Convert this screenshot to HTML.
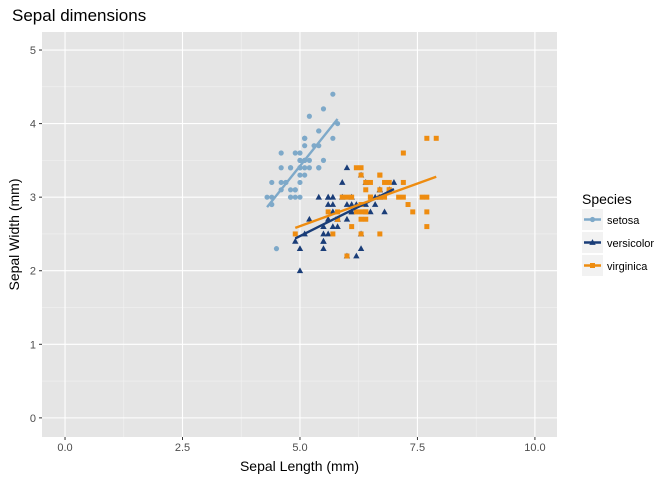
<!DOCTYPE html>
<html><head><meta charset="utf-8"><style>
body{margin:0;background:#fff;}
svg text{font-family:"Liberation Sans",Arial,sans-serif;}
</style></head><body>
<svg id="chart" width="672" height="480" xmlns="http://www.w3.org/2000/svg">
<text x="12" y="21" font-size="17" fill="#000">Sepal dimensions</text>
<rect x="42" y="32" width="515" height="405" fill="#e5e5e5"/>
<g id="grid"></g><g id="marks"></g><g id="axes"></g>
<text x="299.5" y="471" font-size="14" text-anchor="middle">Sepal Length (mm)</text>
<text transform="translate(19,234.5) rotate(-90)" font-size="14" text-anchor="middle">Sepal Width (mm)</text>
<g id="legend">
<text x="582" y="204" font-size="14">Species</text>
</g>
</svg>
<script>
const species=["setosa","versicolor","virginica"];
const colors=["#7ea9c9","#1a3d78","#ee8c10"];
const xTicks=[0,2.5,5,7.5,10];
const xTickLabels=["0.0","2.5","5.0","7.5","10.0"];
const yTicks=[0,1,2,3,4,5];
const yTickLabels=["0","1","2","3","4","5"];
const setosaLength=[5.1,4.9,4.7,4.6,5.0,5.4,4.6,5.0,4.4,4.9,5.4,4.8,4.8,4.3,5.8,5.7,5.4,5.1,5.7,5.1,5.4,5.1,4.6,5.1,4.8,5.0,5.0,5.2,5.2,4.7,4.8,5.4,5.2,5.5,4.9,5.0,5.5,4.9,4.4,5.1,5.0,4.5,4.4,5.0,5.1,4.8,5.1,4.6,5.3,5.0];
const setosaWidth=[3.5,3.0,3.2,3.1,3.6,3.9,3.4,3.4,2.9,3.1,3.7,3.4,3.0,3.0,4.0,4.4,3.9,3.5,3.8,3.8,3.4,3.7,3.6,3.3,3.4,3.0,3.4,3.5,3.4,3.2,3.1,3.4,4.1,4.2,3.1,3.2,3.5,3.6,3.0,3.4,3.5,2.3,3.2,3.5,3.8,3.0,3.8,3.2,3.7,3.3];
const versicolorLength=[7.0,6.4,6.9,5.5,6.5,5.7,6.3,4.9,6.6,5.2,5.0,5.9,6.0,6.1,5.6,6.7,5.6,5.8,6.2,5.6,5.9,6.1,6.3,6.1,6.4,6.6,6.8,6.7,6.0,5.7,5.5,5.5,5.8,6.0,5.4,6.0,6.7,6.3,5.6,5.5,5.5,6.1,5.8,5.0,5.6,5.7,5.7,6.2,5.1,5.7];
const versicolorWidth=[3.2,3.2,3.1,2.3,2.8,2.8,3.3,2.4,2.9,2.7,2.0,3.0,2.2,2.9,2.9,3.1,3.0,2.7,2.2,2.5,3.2,2.8,2.5,2.8,2.9,3.0,2.8,3.0,2.9,2.6,2.4,2.4,2.7,2.7,3.0,3.4,3.1,2.3,3.0,2.5,2.6,3.0,2.6,2.3,2.7,3.0,2.9,2.9,2.5,2.8];
const virginicaLength=[6.3,5.8,7.1,6.3,6.5,7.6,4.9,7.3,6.7,7.2,6.5,6.4,6.8,5.7,5.8,6.4,6.5,7.7,7.7,6.0,6.9,5.6,7.7,6.3,6.7,7.2,6.2,6.1,6.4,7.2,7.4,7.9,6.4,6.3,6.1,7.7,6.3,6.4,6.0,6.9,6.7,6.9,5.8,6.8,6.7,6.7,6.3,6.5,6.2,5.9];
const virginicaWidth=[3.3,2.7,3.0,2.9,3.0,3.0,2.5,2.9,2.5,3.6,3.2,2.7,3.0,2.5,2.8,3.2,3.0,3.8,2.6,2.2,3.2,2.8,2.8,2.7,3.3,3.2,2.8,3.0,2.8,3.0,2.8,3.8,2.8,2.8,2.6,3.0,3.4,3.1,3.0,3.1,3.1,3.1,2.7,3.2,3.3,3.0,2.5,3.0,3.4,3.0];

const NS="http://www.w3.org/2000/svg";
const X0=42,X1=557,Y0=32,Y1=437;
const xMin=-0.49,xMax=10.47,yMin=-0.26,yMax=5.245;
const xs=v=>X0+(v-xMin)/(xMax-xMin)*(X1-X0);
const ys=v=>Y1-(v-yMin)/(yMax-yMin)*(Y1-Y0);
function mk(tag,attrs,parent){const e=document.createElementNS(NS,tag);for(const k in attrs)e.setAttribute(k,attrs[k]);parent.appendChild(e);return e;}
const grid=document.getElementById('grid'),marks=document.getElementById('marks'),axes=document.getElementById('axes'),legend=document.getElementById('legend');
// minor grid
for(let i=0;i<xTicks.length-1;i++){const m=(xTicks[i]+xTicks[i+1])/2;const l=mk('line',{x1:xs(m),x2:xs(m),y1:Y0,y2:Y1,stroke:'#f2f2f2','stroke-width':0.6},grid);

}
for(let i=0;i<yTicks.length-1;i++){const m=(yTicks[i]+yTicks[i+1])/2;const l=mk('line',{x1:X0,x2:X1,y1:ys(m),y2:ys(m),stroke:'#f2f2f2','stroke-width':0.6},grid);

}
xTicks.forEach((t,i)=>{
const l=mk('line',{x1:xs(t),x2:xs(t),y1:Y0,y2:Y1,stroke:'#fff','stroke-width':1.1},grid);


const tk=mk('line',{x1:xs(t),x2:xs(t),y1:Y1,y2:Y1+3,stroke:'#333','stroke-width':1},axes);


const tx=mk('text',{x:xs(t),y:Y1+14,'font-size':11,fill:'#4d4d4d','text-anchor':'middle'},axes);tx.textContent=xTickLabels[i];


});
yTicks.forEach((t,i)=>{
const l=mk('line',{x1:X0,x2:X1,y1:ys(t),y2:ys(t),stroke:'#fff','stroke-width':1.1},grid);


const tk=mk('line',{x1:X0-3,x2:X0,y1:ys(t),y2:ys(t),stroke:'#333','stroke-width':1},axes);


const tx=mk('text',{x:X0-6,y:ys(t)+4,'font-size':11,fill:'#4d4d4d','text-anchor':'end'},axes);tx.textContent=yTickLabels[i];


});
function shape(k,cx,cy,parent){
if(k===0)return mk('circle',{cx:cx,cy:cy,r:2.6,fill:colors[0]},parent);
if(k===1)return mk('polygon',{points:`${cx},${cy-3.4} ${cx-3.2},${cy+2.4} ${cx+3.2},${cy+2.4}`,fill:colors[1]},parent);
return mk('rect',{x:cx-2.5,y:cy-2.5,width:5,height:5,fill:colors[2]},parent);
}
const L=[setosaLength,versicolorLength,virginicaLength],W=[setosaWidth,versicolorWidth,virginicaWidth];
const lines=[];
for(let k=0;k<3;k++){
const xa=L[k],ya=W[k],n=xa.length;
for(let i=0;i<n;i++){const p=shape(k,xs(xa[i]),ys(ya[i]),marks);

}
const mx=xa.reduce((a,b)=>a+b)/n,my=ya.reduce((a,b)=>a+b)/n;
let sxy=0,sxx=0;for(let i=0;i<n;i++){sxy+=(xa[i]-mx)*(ya[i]-my);sxx+=(xa[i]-mx)**2;}
const b=sxy/sxx,a=my-b*mx,lo=Math.min(...xa),hi=Math.max(...xa);
lines.push([lo,a+b*lo,hi,a+b*hi]);
}
lines.forEach((s,k)=>{const l=mk('line',{x1:xs(s[0]),y1:ys(s[1]),x2:xs(s[2]),y2:ys(s[3]),stroke:colors[k],'stroke-width':2.4},marks);

});
species.forEach((s,k)=>{
const y=209+k*23;
const g=mk('g',{},legend);


mk('rect',{x:582,y:y,width:21,height:21,fill:'#f2f2f2'},g);
mk('line',{x1:584,x2:601,y1:y+10.5,y2:y+10.5,stroke:colors[k],'stroke-width':2.4},g);
shape(k,592.5,y+10.5,g);
const t=mk('text',{x:607,y:y+15,'font-size':11,fill:'#000'},g);t.textContent=s;
});
</script>
</body></html>
